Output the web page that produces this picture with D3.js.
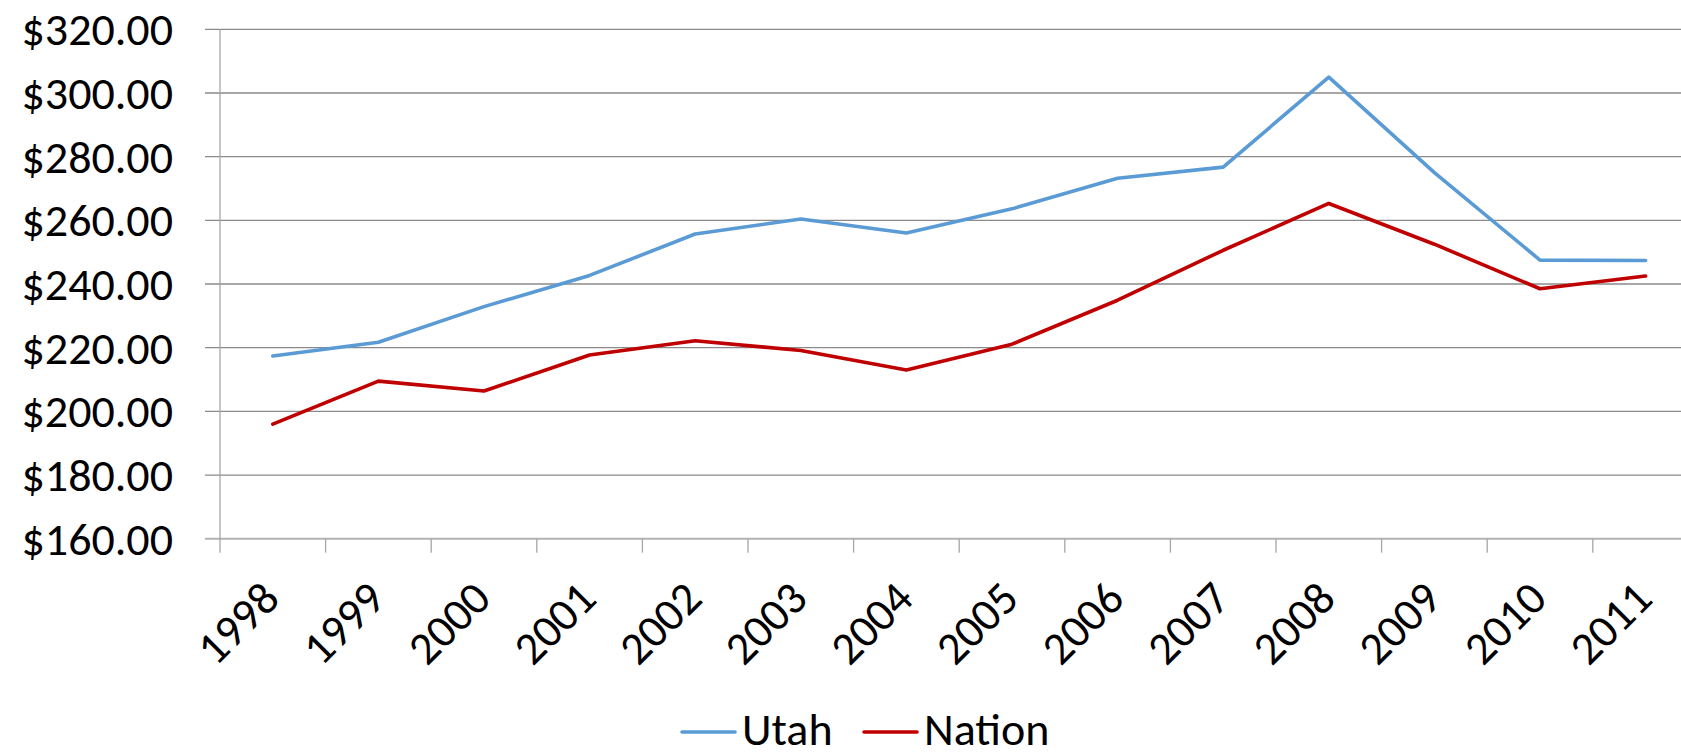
<!DOCTYPE html>
<html>
<head>
<meta charset="utf-8">
<script src="https://cdnjs.cloudflare.com/ajax/libs/d3/7.8.5/d3.min.js"></script>
<style>
  body { margin: 0; background: #fff; }
  svg { display: block; }
  text { font-family: Carlito, Calibri, Lato, sans-serif; fill: #000; }
</style>
</head>
<body>
<div id="chart"></div>
<script>
var years = ["1998","1999","2000","2001","2002","2003","2004","2005","2006","2007","2008","2009","2010","2011"];
var utah = [217.4, 221.7, 232.9, 242.7, 255.7, 260.4, 256.0, 263.6, 273.2, 276.7, 305.0, 275.0, 247.5, 247.4];
var nation = [196.0, 209.5, 206.4, 217.7, 222.2, 219.1, 213.0, 221.1, 234.9, 250.6, 265.3, 252.5, 238.5, 242.5];
var yTicks = [160, 180, 200, 220, 240, 260, 280, 300, 320];
var seriesNames = ["Utah", "Nation"];
var seriesColors = ["#5B9BD5", "#C00000"];

var width = 1681, height = 752;
var plotLeft = 220, plotTop = 29.3, plotBottom = 538.7, band = 105.6;
var fontSize = '46px';

var svg = d3.select('#chart').append('svg')
    .attr('width', width).attr('height', height);

var x = d3.scaleBand().domain(years).range([plotLeft, plotLeft + band * years.length]);
var y = d3.scaleLinear().domain([160, 320]).range([plotBottom, plotTop]);

// gridlines + y labels
svg.append('g').selectAll('line').data(yTicks).enter().append('line')
    .attr('x1', 205).attr('x2', width)
    .attr('y1', function(d) { return y(d); }).attr('y2', function(d) { return y(d); })
    .attr('stroke', function(d) { return d === 160 ? '#b3b3b3' : '#8a8a8a'; })
    .attr('stroke-width', function(d) { return d === 160 ? 2 : 1.3; });

svg.append('g').selectAll('text').data(yTicks).enter().append('text')
    .attr('x', 173).attr('y', function(d) { return y(d); })
    .attr('dy', '0.35em')
    .attr('text-anchor', 'end')
    .style('font-size', fontSize)
    .text(function(d) { return '$' + d3.format('.2f')(d); });

// y axis line
svg.append('line')
    .attr('x1', plotLeft).attr('x2', plotLeft).attr('y1', plotTop).attr('y2', plotBottom + 14)
    .attr('stroke', '#a6a6a6').attr('stroke-width', 1.3);

// x ticks at band boundaries
svg.append('g').selectAll('line').data(years.slice(1)).enter().append('line')
    .attr('x1', function(d) { return x(d); }).attr('x2', function(d) { return x(d); })
    .attr('y1', plotBottom).attr('y2', plotBottom + 14)
    .attr('stroke', '#a6a6a6').attr('stroke-width', 1.3);

// x labels, rotated
svg.append('g').selectAll('text').data(years).enter().append('text')
    .attr('transform', function(d) {
      return 'translate(' + (x(d) + x.bandwidth() / 2 + 9) + ',601) rotate(-45)';
    })
    .attr('text-anchor', 'end')
    .style('font-size', fontSize)
    .text(function(d) { return d; });

// lines
var line = d3.line()
    .x(function(d, i) { return x(years[i]) + x.bandwidth() / 2; })
    .y(function(d) { return y(d); });

[utah, nation].forEach(function(vals, k) {
  svg.append('path')
      .datum(vals)
      .attr('d', line)
      .attr('fill', 'none')
      .attr('stroke', seriesColors[k])
      .attr('stroke-width', 3.6)
      .attr('stroke-linejoin', 'round')
      .attr('stroke-linecap', 'round');
});

// legend
var legX = [682, 864];
var legend = svg.append('g');
seriesNames.forEach(function(name, k) {
  legend.append('line')
      .attr('x1', legX[k]).attr('x2', legX[k] + 53)
      .attr('y1', 732).attr('y2', 732)
      .attr('stroke', seriesColors[k]).attr('stroke-width', 3.6)
      .attr('stroke-linecap', 'round');
  legend.append('text')
      .attr('x', legX[k] + 60).attr('y', 745)
      .style('font-size', fontSize)
      .text(name);
});
</script>
</body>
</html>
